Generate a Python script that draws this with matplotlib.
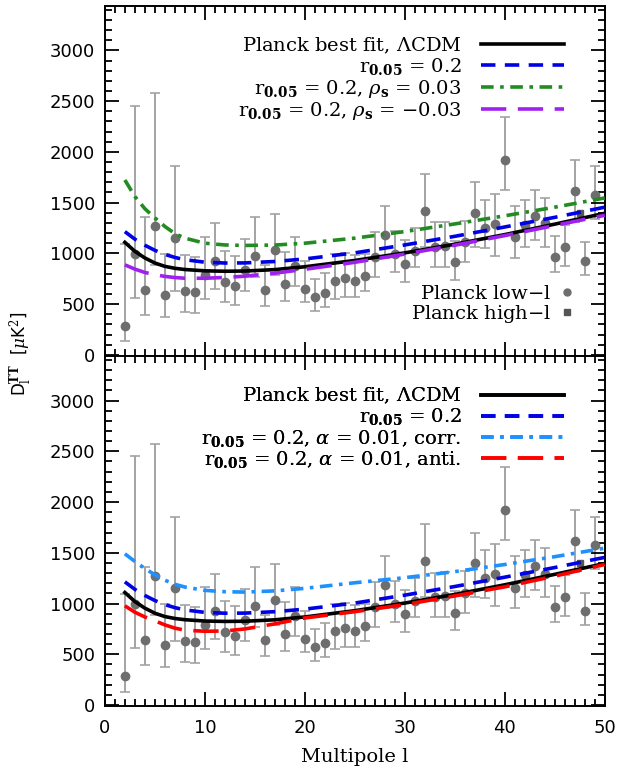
import numpy as np
import matplotlib
matplotlib.use("Agg")
from matplotlib import pyplot as plt
from matplotlib.ticker import MultipleLocator
from matplotlib.lines import Line2D

plt.rcParams["font.family"] = "DejaVu Serif"
plt.rcParams["mathtext.fontset"] = "dejavuserif"

# Planck low-l points (l = 2..49)
ell = np.arange(2, 50)
dl = [289, 998, 637, 1274, 591, 1152, 627, 621, 788, 922, 719, 683, 838, 978, 641, 1037,
      700, 880, 650, 575, 614, 729, 755, 732, 781, 965, 1182, 995, 897, 1028, 1421, 1060,
      1077, 912, 1109, 1398, 1247, 1290, 1923, 1158, 1283, 1372, 1296, 968, 1067, 1618, 929, 1579]
dl_hi = [1093, 2455, 1362, 2576, 995, 1857, 981, 962, 1165, 1296, 1021, 972, 1143, 1362, 887, 1389,
         1011, 1166, 929, 749, 804, 995, 1001, 985, 995, 1212, 1464, 1224, 1133, 1247, 1782, 1306,
         1313, 1126, 1323, 1700, 1530, 1586, 2346, 1464, 1526, 1625, 1546, 1175, 1283, 1920, 1109, 1857]
dl_lo = [132, 562, 397, 890, 371, 634, 427, 417, 548, 650, 519, 496, 627, 772, 486, 788,
         529, 683, 519, 437, 469, 552, 568, 568, 627, 765, 952, 814, 716, 863, 1060, 863,
         870, 739, 912, 1060, 1054, 978, 1628, 955, 1060, 1136, 1067, 814, 880, 1313, 791, 1340]

# Planck high-l binned point
ell_high = [47.5]
dl_high = [1401]

# model curves
ell_model = [2, 3, 4, 5, 6, 7, 8, 10, 12, 14, 17, 20, 25, 30, 35, 40, 45, 50]
lcdm = [1109, 1020, 955, 905, 872, 853, 841, 828, 824, 826, 840, 868, 930, 1005, 1090, 1185, 1288, 1395]
r02 = [1214, 1140, 1080, 1030, 990, 960, 938, 913, 905, 906, 920, 945, 1005, 1083, 1168, 1260, 1355, 1455]
rho_pos = [1723, 1560, 1440, 1350, 1265, 1195, 1150, 1100, 1083, 1078, 1082, 1100, 1150, 1215, 1290, 1370, 1455, 1546]
rho_neg = [887, 845, 812, 790, 773, 762, 755, 755, 763, 775, 805, 843, 912, 993, 1080, 1175, 1275, 1375]
alpha_corr = [1490, 1415, 1345, 1284, 1230, 1190, 1163, 1130, 1117, 1113, 1125, 1150, 1205, 1255, 1315, 1385, 1462, 1546]
alpha_anti = [978, 915, 868, 830, 790, 758, 738, 727, 730, 750, 800, 858, 920, 990, 1075, 1165, 1270, 1385]

top_labels = [r"Planck best fit, $\Lambda$CDM",
              r"r$_{\mathbf{0.05}}$ = 0.2",
              r"r$_{\mathbf{0.05}}$ = 0.2, $\rho_{\mathbf{s}}$ = 0.03",
              r"r$_{\mathbf{0.05}}$ = 0.2, $\rho_{\mathbf{s}}$ = $-$0.03"]
bot_labels = [r"Planck best fit, $\Lambda$CDM",
              r"r$_{\mathbf{0.05}}$ = 0.2",
              r"r$_{\mathbf{0.05}}$ = 0.2, $\alpha$ = 0.01, corr.",
              r"r$_{\mathbf{0.05}}$ = 0.2, $\alpha$ = 0.01, anti."]

fig, (ax1, ax2) = plt.subplots(2, 1, figsize=(6.28, 7.70), dpi=100, sharex=True)
fig.subplots_adjust(left=0.167, right=0.963, top=0.9926, bottom=0.083, hspace=0)

dl = np.array(dl)
yerr = [dl - np.array(dl_lo), np.array(dl_hi) - dl]

styles_top = [
    (lcdm, "black", "-", None),
    (r02, "#0000e6", "--", (4, 2.6)),
    (rho_pos, "#228b22", "-.", (3.5, 1.8, 1, 1.8)),
    (rho_neg, "#a020f0", "--", (7, 3.2)),
]
styles_bot = [
    (lcdm, "black", "-", None),
    (r02, "#0000e6", "--", (4, 2.6)),
    (alpha_corr, "#1e90ff", "-.", (3.5, 1.8, 1, 1.8)),
    (alpha_anti, "#ff0000", "--", (7, 3.2)),
]

for ax, styles, labels in [(ax1, styles_top, top_labels), (ax2, styles_bot, bot_labels)]:
    ax.errorbar(ell, dl, yerr=yerr, fmt="none", ecolor="#a3a3a3", elinewidth=1.4,
                capsize=3.5, capthick=1.2, zorder=1)
    ax.plot(ell, dl, "o", color="#6e6e6e", markersize=6, zorder=2)
    ax.plot(ell_high, dl_high, "s", color="#555555", markersize=5, zorder=2)

    handles = []
    for vals, c, ls, dash in styles:
        kw = dict(color=c, lw=2.6, zorder=3)
        if dash is not None:
            kw["dashes"] = dash
        ln, = ax.plot(ell_model, vals, **kw)
        handles.append(ln)

    leg = ax.legend(handles, labels, loc="upper right", bbox_to_anchor=(0.935, 0.937),
                    frameon=False, markerfirst=False, fontsize=14, handlelength=4.3,
                    handletextpad=1.0, labelspacing=0.02, borderaxespad=0)
    ax.add_artist(leg)

    ax.set_xlim(0, 50)
    ax.set_ylim(-10, 3440)
    ax.xaxis.set_major_locator(MultipleLocator(10))
    ax.xaxis.set_minor_locator(MultipleLocator(1))
    ax.yaxis.set_major_locator(MultipleLocator(500))
    ax.yaxis.set_minor_locator(MultipleLocator(100))
    ax.tick_params(which="both", direction="in", top=True, right=True, width=1.3)
    ax.tick_params(which="major", length=10)
    ax.tick_params(which="minor", length=5)
    ax.tick_params(axis="both", labelsize=13, pad=7)
    ax.tick_params(axis="x", pad=9)
    for lab in ax.get_xticklabels() + ax.get_yticklabels():
        lab.set_family("DejaVu Sans")
    for s in ax.spines.values():
        s.set_linewidth(1.4)

# data legend in the top panel
pts = [Line2D([], [], ls="none", marker="o", color="#6e6e6e", markersize=5),
       Line2D([], [], ls="none", marker="s", color="#555555", markersize=5)]
ax1.legend(pts, ["Planck low$-$l", "Planck high$-$l"], loc="upper right",
           bbox_to_anchor=(0.955, 0.225), frameon=False, markerfirst=False,
           fontsize=14, handlelength=0.8, handletextpad=0.4, labelspacing=0.02,
           borderaxespad=0)

ax2.set_xlabel("Multipole l", fontsize=14, labelpad=8)
fig.text(0.033, 0.54, r"D$_\mathrm{l}^\mathbf{TT}$  [$\mu$K$^2$]", rotation=90,
         ha="center", va="center", fontsize=12, family="DejaVu Sans")

fig.savefig("out.png", dpi=100)
